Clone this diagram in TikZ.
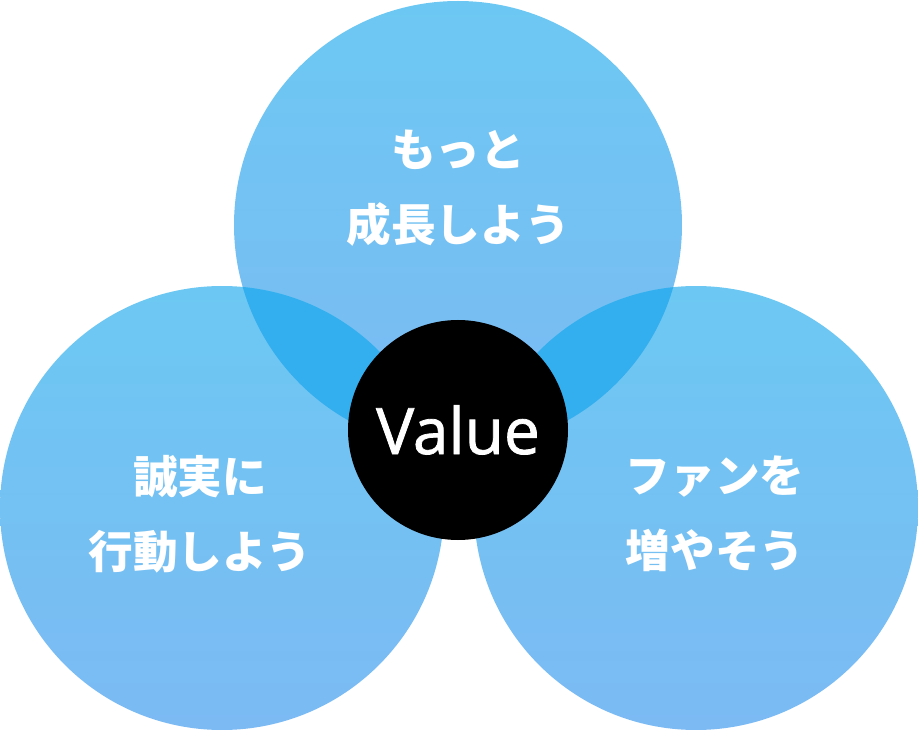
\documentclass[tikz,border=0pt]{standalone}
\usepackage{fontspec}
\setmainfont{Open Sans}
\newfontfamily\valuefont{Open Sans}[FakeBold=1.2]
\newfontfamily\jpfont{Noto Sans CJK JP}
\definecolor{skytop}{HTML}{6CC8F2}
\definecolor{skybot}{HTML}{7CBAF4}
\definecolor{overlap}{HTML}{33AEEE}
\tikzset{
  bubble/.style={
    shape = circle,
    inner sep = 0pt,
    minimum size = 336pt,
    top color = skytop,
    bottom color = skybot,
    draw = none
  },
  core/.style={
    shape = circle,
    inner sep = 0pt,
    minimum size = 165pt,
    fill = black,
    text = white,
    font = \valuefont\fontsize{48}{52}\selectfont
  },
  motto/.style={
    align = center,
    text = white,
    font = \jpfont\bfseries\fontsize{33.5}{56}\selectfont
  }
}
\begin{document}
\begin{tikzpicture}[x=0.75pt,y=-0.75pt]
  \useasboundingbox (0,0) rectangle (918,734);
  \node[bubble] (grow) at (458,225) {};
  \node[bubble,minimum size=333pt] (honest) at (222,508) {};
  \node[bubble,minimum size=333pt] (fans) at (696,508) {};
  % darker where the circles meet
  \begin{scope}
    \clip (458,225) circle (224);
    \fill[overlap] (222,508) circle (222);
    \fill[overlap] (696,508) circle (222);
  \end{scope}
  \node[core] (value) at (458,430) {Value};
  \node[motto] (growtext) at (458,188) {もっと\\成長しよう};
  \node[motto] (honesttext) at (200,514) {誠実に\\行動しよう};
  \node[motto] (fanstext) at (715,514) {ファンを\\増やそう};
\end{tikzpicture}
\end{document}
